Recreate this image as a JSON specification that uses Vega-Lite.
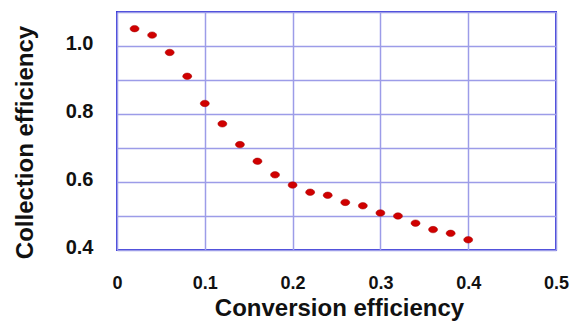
{
  "$schema": "https://vega.github.io/schema/vega-lite/v6.json",
  "width": 439,
  "height": 238,
  "autosize": "none",
  "padding": {"left": 117, "top": 12, "right": 15, "bottom": 72},
  "background": "white",
  "config": {
    "view": {"stroke": "#3a3ad8", "strokeWidth": 2},
    "axis": {
      "domain": false,
      "ticks": false,
      "grid": true,
      "gridColor": "#9c9ce8",
      "gridWidth": 1.5,
      "gridOpacity": 1,
      "labelFont": "Liberation Sans",
      "labelFontWeight": "bold",
      "labelColor": "#111111",
      "titleFont": "Liberation Sans",
      "titleFontWeight": "bold",
      "titleColor": "#111111"
    }
  },
  "data": {
    "values": [
      {"conv": 0.02, "coll": 1.051},
      {"conv": 0.04, "coll": 1.032},
      {"conv": 0.06, "coll": 0.981},
      {"conv": 0.08, "coll": 0.911},
      {"conv": 0.10, "coll": 0.831},
      {"conv": 0.12, "coll": 0.771},
      {"conv": 0.14, "coll": 0.710},
      {"conv": 0.16, "coll": 0.661},
      {"conv": 0.18, "coll": 0.621},
      {"conv": 0.20, "coll": 0.591},
      {"conv": 0.22, "coll": 0.570},
      {"conv": 0.24, "coll": 0.561},
      {"conv": 0.26, "coll": 0.540},
      {"conv": 0.28, "coll": 0.530},
      {"conv": 0.30, "coll": 0.509},
      {"conv": 0.32, "coll": 0.500},
      {"conv": 0.34, "coll": 0.479},
      {"conv": 0.36, "coll": 0.460},
      {"conv": 0.38, "coll": 0.449},
      {"conv": 0.40, "coll": 0.430}
    ]
  },
  "mark": {
    "type": "point",
    "filled": true,
    "shape": "M-1,0 A1,0.72,0,1,1,1,0 A1,0.72,0,1,1,-1,0 Z",
    "size": 81,
    "color": "#d00000",
    "opacity": 1,
    "stroke": "#a00000",
    "strokeWidth": 0.5
  },
  "encoding": {
    "x": {
      "field": "conv",
      "type": "quantitative",
      "scale": {"domain": [0, 0.5], "nice": false, "zero": false},
      "axis": {
        "title": "Conversion efficiency",
        "values": [0, 0.1, 0.2, 0.3, 0.4, 0.5],
        "labelExpr": "datum.value == 0 ? '0' : format(datum.value, '.1f')",
        "labelFontSize": 18,
        "labelPadding": 24,
        "labelFlush": false,
        "titleFontSize": 24,
        "titleX": 222,
        "titleY": 65,
        "titleBaseline": "alphabetic",
        "titleAlign": "center"
      }
    },
    "y": {
      "field": "coll",
      "type": "quantitative",
      "scale": {"domain": [0.4, 1.1], "nice": false, "zero": false},
      "axis": {
        "title": "Collection efficiency",
        "values": [0.4, 0.5, 0.6, 0.7, 0.8, 0.9, 1.0, 1.1],
        "labelExpr": "indexof(['0.4','0.6','0.8','1.0'], format(datum.value, '.1f')) >= 0 ? format(datum.value, '.1f') : ''",
        "labelFontSize": 20,
        "labelPadding": 24,
        "labelOffset": -3,
        "labelFlush": false,
        "titleFontSize": 24,
        "titleX": -92,
        "titleY": 130,
        "titleAngle": -90,
        "titleBaseline": "middle",
        "titleAlign": "center"
      }
    }
  }
}
